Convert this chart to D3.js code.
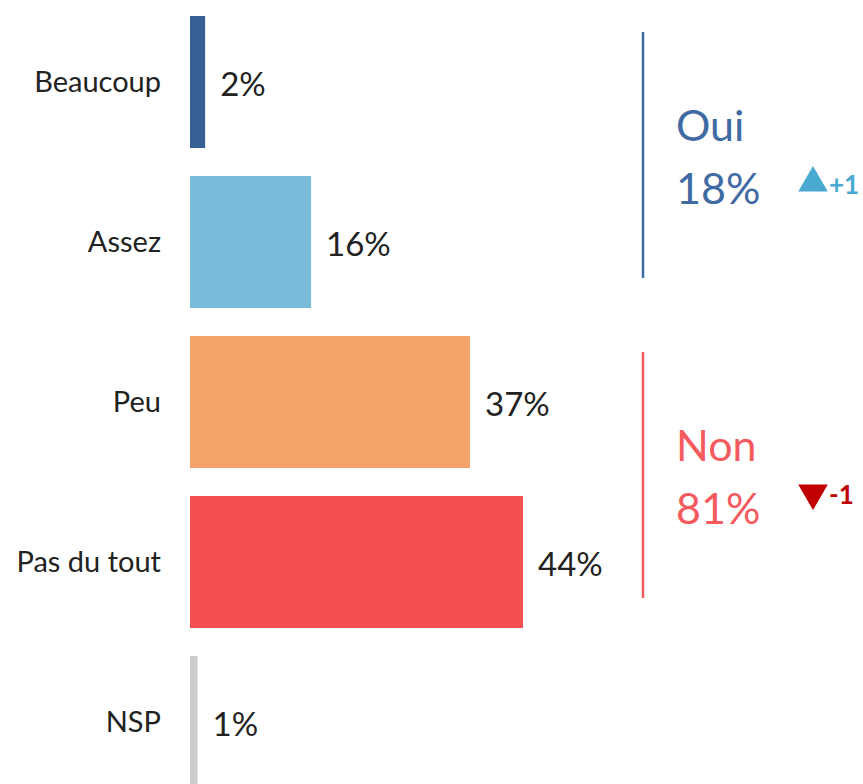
<!DOCTYPE html>
<html>
<head>
<meta charset="utf-8">
<script src="https://cdn.jsdelivr.net/npm/d3@7"></script>
<style>
  body { margin: 0; background: #fff; }
  svg { display: block; font-family: Lato, "Open Sans", sans-serif; }
</style>
</head>
<body>
<svg width="863" height="784"></svg>
<script>
var categories = ["Beaucoup", "Assez", "Peu", "Pas du tout", "NSP"];
var values = [2, 16, 37, 44, 1];
var colors = ["#365f93", "#7abbd9", "#f5a36b", "#f45052", "#cccccc"];

var groupNames = ["Oui", "Non"];
var groupTotals = [18, 81];
var groupDeltas = [1, -1];
var groupMembers = [["Beaucoup", "Assez"], ["Peu", "Pas du tout"]];
var groupColors = ["#3f6aa3", "#f45a5e"];
var deltaColors = ["#4aa9d0", "#c00000"];

var svg = d3.select("svg");

var yScale = d3.scaleBand()
    .domain(categories)
    .range([2, 802])
    .paddingInner(0.175)
    .paddingOuter(0.0875);

var x0 = 190;
var xScale = d3.scaleLinear().domain([0, 44]).range([x0, 523]);

var data = categories.map(function(c, i) {
    return {cat: c, val: values[i], color: colors[i]};
});

// bars
svg.selectAll(".bar")
    .data(data)
    .enter()
    .append("rect")
    .attr("class", "bar")
    .attr("x", x0)
    .attr("y", (d) => yScale(d.cat))
    .attr("width", (d) => xScale(d.val) - x0)
    .attr("height", yScale.bandwidth())
    .attr("fill", (d) => d.color);

// category labels
svg.selectAll(".cat")
    .data(data)
    .enter()
    .append("text")
    .attr("class", "cat")
    .attr("x", 161)
    .attr("y", (d) => yScale(d.cat) + yScale.bandwidth() / 2 + 10)
    .attr("text-anchor", "end")
    .attr("font-size", 29)
    .attr("fill", "#222")
    .text((d) => d.cat);

// value labels
svg.selectAll(".val")
    .data(data)
    .enter()
    .append("text")
    .attr("class", "val")
    .attr("x", (d) => xScale(d.val) + 15)
    .attr("y", (d) => yScale(d.cat) + yScale.bandwidth() / 2 + 14)
    .attr("font-size", 33)
    .attr("fill", "#222")
    .text((d) => d.val + "%");

// group annotations
groupNames.forEach(function(name, i) {
    var m = groupMembers[i];
    var top = yScale(m[0]) + 16;
    var bottom = yScale(m[m.length - 1]) + yScale.bandwidth() - 30;
    var mid = (top + bottom) / 2;
    var lx = 643;

    svg.append("line")
        .attr("x1", lx).attr("x2", lx)
        .attr("y1", top).attr("y2", bottom)
        .attr("stroke", groupColors[i])
        .attr("stroke-width", 2.5);

    svg.append("text")
        .attr("x", 676)
        .attr("y", mid - 14)
        .attr("font-size", 43)
        .attr("fill", groupColors[i])
        .text(name);

    var pctY = mid + 49;
    svg.append("text")
        .attr("x", 676)
        .attr("y", pctY)
        .attr("font-size", 43)
        .attr("fill", groupColors[i])
        .text(groupTotals[i] + "%");

    // delta triangle
    var up = groupDeltas[i] > 0;
    var cx = 813, cy = up ? pctY - 21 : pctY - 31;
    var tri = d3.symbol().type(d3.symbolTriangle).size(380);
    svg.append("path")
        .attr("d", tri())
        .attr("transform", "translate(" + cx + "," + cy + ")" + (up ? "" : " rotate(180)"))
        .attr("fill", deltaColors[i]);

    svg.append("text")
        .attr("x", 829)
        .attr("y", up ? cy + 11 : cy + 11)
        .attr("font-size", 26)
        .attr("font-weight", "bold")
        .attr("fill", deltaColors[i])
        .text((up ? "+" : "-") + Math.abs(groupDeltas[i]));
});
</script>
</body>
</html>
